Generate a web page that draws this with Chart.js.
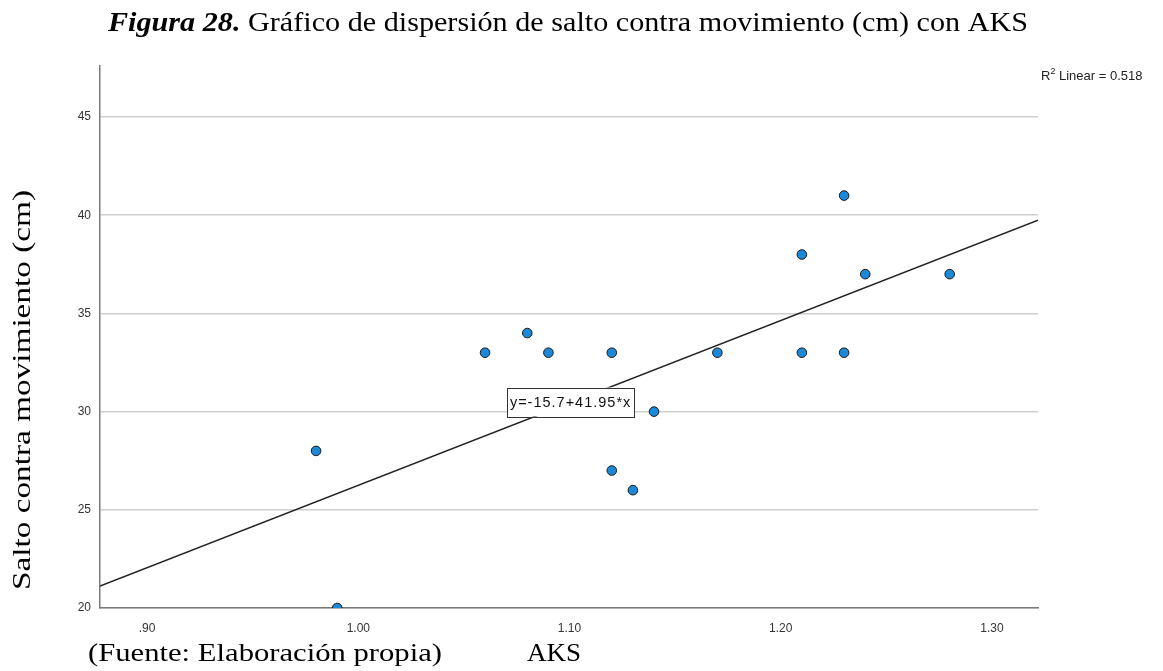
<!DOCTYPE html>
<html>
<head>
<meta charset="utf-8">
<script src="https://cdn.jsdelivr.net/npm/chart.js@4"></script>
<style>
  html, body { margin: 0; padding: 0; background: #fff; }
  #wrap { width: 1163px; height: 671px; }
</style>
</head>
<body>
<div id="wrap"><canvas id="chart" width="1163" height="671"></canvas></div>
<script>
// datos
const aks = [0.98, 0.99, 1.06, 1.08, 1.09, 1.12, 1.12, 1.13, 1.14, 1.17, 1.21, 1.21, 1.23, 1.23, 1.24, 1.28]
const salto = [28, 20, 33, 34, 33, 33, 27, 26, 30, 33, 38, 33, 41, 33, 37, 37]

const xTicks = [0.9, 1.0, 1.1, 1.2, 1.3]
const yTicks = [20, 25, 30, 35, 40, 45]
const xRange = [0.8777, 1.3218]
const yRange = [20, 47.6]

// recta de ajuste (y = -15.7 + 41.95*x)
const fitIntercept = -15.7
const fitSlope = 41.95
const fitLabel = 'y=-15.7+41.95*x'
const fitLabelAt = [1.1005, 30.49]
const r2Label = '0.518'

const titleBold = 'Figura 28.'
const titleText = ' Gráfico de dispersión de salto contra movimiento (cm) con AKS'
const yTitle = 'Salto contra movimiento (cm)'
const xTitle = 'AKS'
const sourceText = '(Fuente: Elaboración propia)'

const fitLine = xRange.map(x => ({ x: x, y: fitIntercept + fitSlope * x }))

const SERIF = '"Liberation Serif", "Times New Roman", serif'
const SANS = '"Liberation Sans", Arial, sans-serif'

// dibuja texto ajustado a un ancho dado (escala horizontal)
function drawFitted(ctx, parts, x, y, width, size) {
    let total = 0
    parts.forEach(p => {
        ctx.font = p.style + ' ' + size + 'px ' + SERIF
        total += ctx.measureText(p.text).width
    })
    const k = width / total
    ctx.save()
    ctx.translate(x, y)
    ctx.scale(k, 1)
    let cx = 0
    parts.forEach(p => {
        ctx.font = p.style + ' ' + size + 'px ' + SERIF
        ctx.fillText(p.text, cx, 0)
        cx += ctx.measureText(p.text).width
    })
    ctx.restore()
}

const textPlugin = {
    id: 'textos',
    afterDraw(chart) {
        const ctx = chart.ctx
        const xs = chart.scales.x
        const ys = chart.scales.y
        ctx.save()
        ctx.fillStyle = '#000'
        ctx.textBaseline = 'alphabetic'
        ctx.textAlign = 'left'

        // título
        drawFitted(ctx, [{ text: titleBold, style: 'italic bold' }, { text: titleText, style: 'normal' }], 108, 31, 920, 28)

        // fuente y título eje x
        drawFitted(ctx, [{ text: sourceText, style: 'normal' }], 88, 661, 354, 26)
        drawFitted(ctx, [{ text: xTitle, style: 'normal' }], 527, 661, 54, 26)

        // título eje y
        ctx.save()
        ctx.translate(30, 590)
        ctx.rotate(-Math.PI / 2)
        drawFitted(ctx, [{ text: yTitle, style: 'normal' }], 0, 0, 400, 25)
        ctx.restore()

        // R2
        ctx.font = '13px ' + SANS
        ctx.fillStyle = '#222'
        ctx.fillText('R', 1041, 80)
        let w = ctx.measureText('R').width
        ctx.font = '9px ' + SANS
        ctx.fillText('2', 1041 + w, 74)
        w += ctx.measureText('2').width
        ctx.font = '13px ' + SANS
        ctx.fillText(' Linear = ' + r2Label, 1041 + w, 80)

        // etiqueta de la recta
        const px = xs.getPixelForValue(fitLabelAt[0])
        const py = ys.getPixelForValue(fitLabelAt[1])
        ctx.font = '14.5px ' + SANS
        ctx.letterSpacing = '1px'
        const tw = ctx.measureText(fitLabel).width
        const bw = tw + 6, bh = 29
        ctx.fillStyle = '#fff'
        ctx.fillRect(px - bw / 2, py - bh / 2, bw, bh)
        ctx.strokeStyle = '#333'
        ctx.lineWidth = 1
        ctx.strokeRect(Math.round(px - bw / 2) + 0.5, Math.round(py - bh / 2) + 0.5, Math.round(bw), bh)
        ctx.fillStyle = '#111'
        ctx.textAlign = 'left'
        ctx.textBaseline = 'middle'
        ctx.fillText(fitLabel, px - tw / 2, py + 1)
        ctx.letterSpacing = '0px'
        ctx.restore()
    }
}

const bgPlugin = {
    id: 'fondo',
    beforeDraw(chart) {
        const ctx = chart.ctx
        ctx.save()
        ctx.fillStyle = '#fff'
        ctx.fillRect(0, 0, chart.width, chart.height)
        ctx.restore()
    }
}

new Chart(document.getElementById('chart'), {
    type: 'scatter',
    data: {
        datasets: [{
            type: 'line',
            data: fitLine,
            borderColor: '#222',
            borderWidth: 1.6,
            pointRadius: 0,
            fill: false,
            order: 2
        }, {
            data: aks.map((x, i) => ({ x: x, y: salto[i] })),
            backgroundColor: '#1c88d8',
            borderColor: '#1a1a1a',
            borderWidth: 1,
            pointRadius: 4.8,
            clip: 0,
            order: 1
        }]
    },
    options: {
        responsive: false,
        animation: false,
        layout: { padding: { left: 0, top: 66, right: 125, bottom: 0 } },
        plugins: {
            legend: { display: false },
            tooltip: { enabled: false },
            title: { display: false }
        },
        scales: {
            x: {
                type: 'linear',
                min: xRange[0],
                max: xRange[1],
                afterBuildTicks: s => { s.ticks = xTicks.map(v => ({ value: v })) },
                afterFit: s => { s.height = 63 },
                grid: { display: false, drawTicks: false },
                border: { display: true, color: '#7a7a7a', width: 1.5 },
                ticks: {
                    padding: 13,
                    color: '#333',
                    font: { family: SANS, size: 12 },
                    callback: v => v.toFixed(2).replace(/^0/, '')
                }
            },
            y: {
                type: 'linear',
                min: yRange[0],
                max: yRange[1],
                afterBuildTicks: s => { s.ticks = yTicks.map(v => ({ value: v })) },
                afterFit: s => { s.width = 100 },
                grid: { color: '#cfcfcf', lineWidth: 1.5, drawTicks: false },
                border: { display: true, color: '#7a7a7a', width: 1.5 },
                ticks: {
                    padding: 9,
                    color: '#333',
                    font: { family: SANS, size: 12 }
                }
            }
        }
    },
    plugins: [bgPlugin, textPlugin]
})
</script>
</body>
</html>
